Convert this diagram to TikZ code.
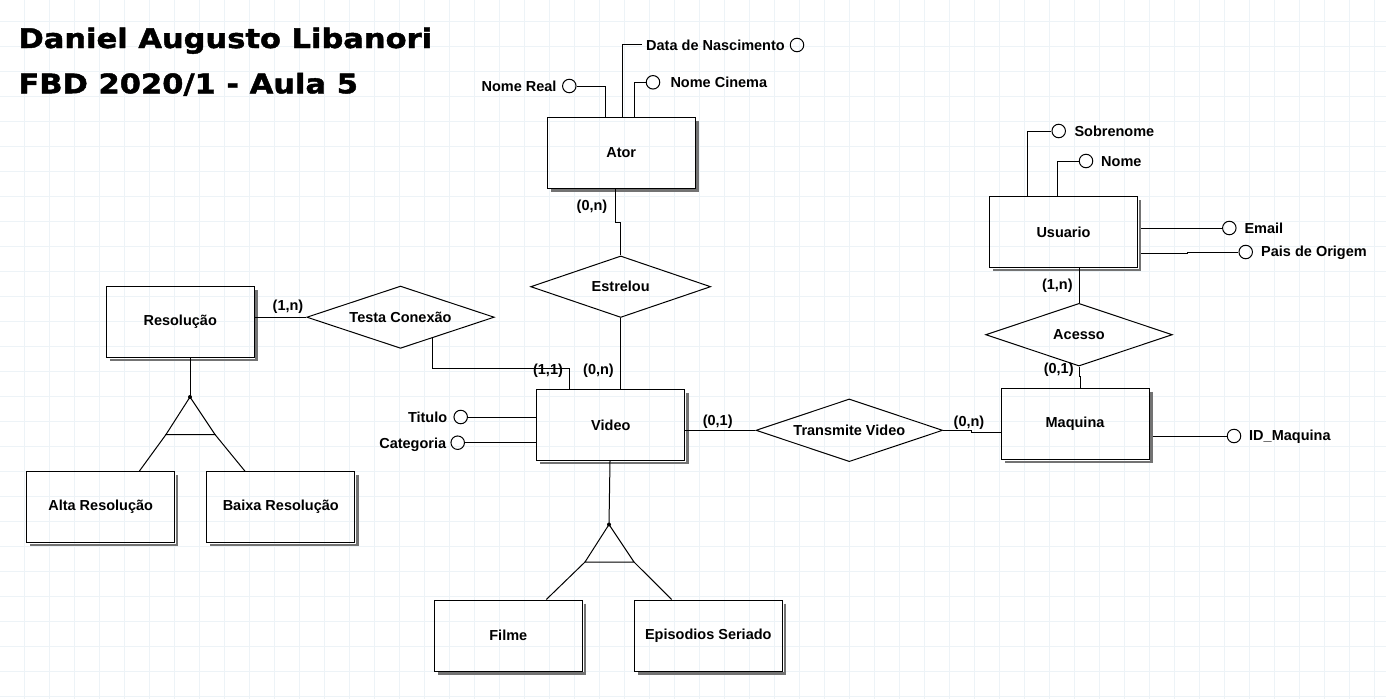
\documentclass[tikz,border=0pt]{standalone}
\usepackage{fontspec}
\setmainfont{Liberation Sans}
\newfontfamily\titlefont{DejaVu Sans}[FakeStretch=1.13,FakeBold=1.6]
\usetikzlibrary{shapes.geometric,calc}
\definecolor{gridcolor}{RGB}{237,243,247}
\begin{document}
\begin{tikzpicture}[x=1pt,y=-1pt,line width=1pt,
  font=\fontsize{14.5}{17}\selectfont\bfseries,
  entity/.style={draw,minimum width=148,minimum height=71,inner sep=0},
  relation/.style={draw,diamond,aspect=3,inner sep=0},
  attr/.style={draw,circle,minimum size=13.5,inner sep=0},
  lbl/.style={inner sep=0},
  shadeline/.style={black!55,line width=2.5pt}]
\fill[white] (0,0) rectangle (1386,699);
\useasboundingbox (0,0) rectangle (1386,699);
\foreach \x in {24,49,...,1374} \draw[gridcolor] (\x,0) -- (\x,699);
\foreach \y in {21,46,...,696} \draw[gridcolor] (0,\y) -- (1386,\y);
\node[lbl,anchor=base west] (autor) at (18,48) {\titlefont\fontsize{27}{32}\selectfont Daniel Augusto Libanori};
\node[lbl,anchor=base west] (aula) at (18,93.3) {\titlefont\fontsize{27}{32}\selectfont FBD 2020/1 - Aula 5};
\node[entity] (ator) at (621.2,152.5) {Ator};
\node[entity] (resolucao) at (180.2,322) {Resolução};
\node[entity] (altares) at (100.7,507.2) {Alta Resolução};
\node[entity] (baixares) at (280.8,507.2) {Baixa Resolução};
\node[entity] (video) at (610.8,425) {Video};
\node[entity] (filme) at (508.3,635.5) {Filme};
\node[entity] (episodios) at (708.3,635.5) {Episodios Seriado};
\node[entity] (usuario) at (1063.5,232) {Usuario};
\node[entity] (maquina) at (1075,423.8) {Maquina};
\foreach \n in {ator,resolucao,altares,baixares,video,filme,episodios,usuario,maquina}
  \draw[shadeline] ([xshift=2pt,yshift=-4pt]\n.north east) -- ([xshift=2pt,yshift=-2pt]\n.south east) -- ([xshift=4pt,yshift=-2pt]\n.south west);
\node[relation,minimum width=180,minimum height=61.5] (estrelou) at (620.7,286.7) {Estrelou};
\node[relation,minimum width=187.5,minimum height=62.3] (testa) at (400.5,317.2) {Testa Conexão};
\node[relation,minimum width=186.7,minimum height=62.7] (transmite) at (849.3,430.3) {Transmite Video};
\node[relation,minimum width=186.6,minimum height=62.7] (acesso) at (1079,334.7) {Acesso};
\node[attr] (nomereal) at (569.3,86) {};
\node[lbl,anchor=base east] (nomereal-t) at (557,91.2) {Nome Real};
\node[attr] (datanasc) at (797,45) {};
\node[lbl,anchor=base west] (datanasc-t) at (645.7,50) {Data de Nascimento};
\node[attr] (nomecinema) at (653,82.3) {};
\node[lbl,anchor=base west] (nomecinema-t) at (670,87.5) {Nome Cinema};
\node[attr] (titulo) at (460.7,417) {};
\node[lbl,anchor=base east] (titulo-t) at (447.7,422.2) {Titulo};
\node[attr] (categoria) at (457.7,442.7) {};
\node[lbl,anchor=base east] (categoria-t) at (446.7,448.9) {Categoria};
\node[attr] (sobrenome) at (1058.7,131) {};
\node[lbl,anchor=base west] (sobrenome-t) at (1074,136.2) {Sobrenome};
\node[attr] (nome) at (1086,161) {};
\node[lbl,anchor=base west] (nome-t) at (1100.7,166.2) {Nome};
\node[attr] (email) at (1229.3,228) {};
\node[lbl,anchor=base west] (email-t) at (1244,233.2) {Email};
\node[attr] (pais) at (1245.7,252) {};
\node[lbl,anchor=base west] (pais-t) at (1260.7,256.9) {Pais de Origem};
\node[attr] (idmaq) at (1234,436) {};
\node[lbl,anchor=base west] (idmaq-t) at (1248.7,440.5) {ID\_Maquina};
\node[lbl] (card-ator) at (592,207) {(0,n)};
\node[lbl] (card-res) at (288,306.7) {(1,n)};
\node[lbl] (card-vidtesta) at (548,370.7) {(1,1)};
\node[lbl] (card-videstr) at (598.5,371) {(0,n)};
\node[lbl] (card-vidtrans) at (717.7,421.7) {(0,1)};
\node[lbl] (card-maqtrans) at (969,422.3) {(0,n)};
\node[lbl] (card-usu) at (1057.3,285.7) {(1,n)};
\node[lbl] (card-maqac) at (1058.7,370) {(0,1)};
\coordinate (spec1) at (190,397);
\coordinate (spec1l) at (166,434.5);
\coordinate (spec1r) at (215,434.5);
\coordinate (spec2) at (609,524.5);
\coordinate (spec2l) at (585,562);
\coordinate (spec2r) at (634,562);
\draw (nomereal) -| (605,0 |- ator.north);
\draw (622,0 |- ator.north) |- ([xshift=-4pt]datanasc-t.west);
\draw (634,0 |- ator.north) |- (nomecinema);
\draw (615,0 |- ator.south) |- (620.7,222) -- (estrelou.north);
\draw (estrelou.south) -- (estrelou.south |- video.north);
\draw ($(testa.south)!.34!(testa.east)$) |- (569,368) -- (569,0 |- video.north);
\draw (resolucao.east |- testa.west) -- (testa.west);
\draw (resolucao.south -| spec1) -- (spec1);
\draw (spec1) -- (spec1l) -- (spec1r) -- cycle;
\draw (spec1l) -- (altares.north -| 139.3,0);
\draw (spec1r) -- (baixares.north -| 245,0);
\fill (spec1) circle (2);
\draw (video.south -| 610,0) -- (spec2);
\draw (spec2) -- (spec2l) -- (spec2r) -- cycle;
\draw (spec2l) -- (filme.north -| 546.3,0);
\draw (spec2r) -- (episodios.north -| 671.7,0);
\fill (spec2) circle (2);
\draw (titulo) -- (video.west |- titulo);
\draw (categoria) -- (video.west |- categoria);
\draw (video.east |- transmite.west) -- (transmite.west);
\draw (transmite.east) -- (971.7,0 |- transmite.east) |- (maquina.west |- 0,432.7);
\draw (acesso.north |- usuario.south) -- (acesso.north);
\draw (acesso.south) -- ++(0,10) -| (1080.3,0 |- maquina.north);
\draw (1027.7,0 |- usuario.north) |- (sobrenome);
\draw (1057.3,0 |- usuario.north) |- (nome);
\draw (1141,0 |- email) -- (email);
\draw (1141,253.3) -- (1187.7,253.3) |- (pais);
\draw (1152.7,0 |- idmaq) -- (idmaq);
\end{tikzpicture}
\end{document}
